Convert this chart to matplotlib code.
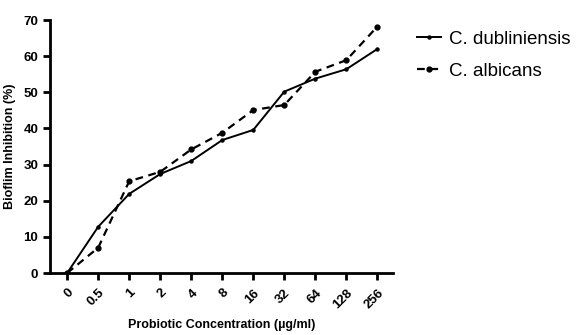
import matplotlib
matplotlib.use("Agg")
import matplotlib.pyplot as plt

plt.rcParams['font.family'] = ['Liberation Sans', 'DejaVu Sans']

conc = ["0", "0.5", "1", "2", "4", "8", "16", "32", "64", "128", "256"]
dubliniensis = [0, 12.8, 21.9, 27.4, 31.0, 36.8, 39.6, 50.2, 53.8, 56.4, 62.0]
albicans = [0, 7.0, 25.4, 28.0, 34.2, 38.8, 45.1, 46.5, 55.7, 58.9, 68.2]

fig = plt.figure(figsize=(5.76, 3.35), dpi=100)
ax = fig.add_axes([0.087, 0.185, 0.595, 0.755])

x = list(range(len(conc)))
ax.plot(x, dubliniensis, color='black', lw=1.4, marker='o', ms=2.2,
        label='C. dubliniensis')
ax.plot(x, albicans, color='black', lw=1.6, ls=(0, (3.5, 2.5)), marker='o', ms=3.5,
        label='C. albicans')

ax.set_xlim(-0.55, 10.5)
ax.set_ylim(0, 70)
ax.set_yticks(range(0, 71, 10))
ax.set_xticks(x)
ax.set_xticklabels(conc, rotation=45, ha='right', rotation_mode='anchor')

for s in ['top', 'right']:
    ax.spines[s].set_visible(False)
for s in ['left', 'bottom']:
    ax.spines[s].set_linewidth(2)
ax.tick_params(width=2, length=5, labelsize=9.5)
ax.tick_params(axis='x', pad=5)
for lab in ax.get_xticklabels() + ax.get_yticklabels():
    lab.set_fontweight('bold')

ax.set_ylabel('Bioflim Inhibition (%)', fontsize=9, fontweight='bold', labelpad=5)
ax.set_xlabel('Probiotic Concentration (\u00b5g/ml)', fontsize=9,
              fontweight='bold', labelpad=6)

ax.legend(loc='upper left', bbox_to_anchor=(1.02, 1.025), frameon=False,
          fontsize=13.5, handlelength=1.3, handletextpad=0.45, labelspacing=0.8)

fig.savefig('out.png', dpi=100)
